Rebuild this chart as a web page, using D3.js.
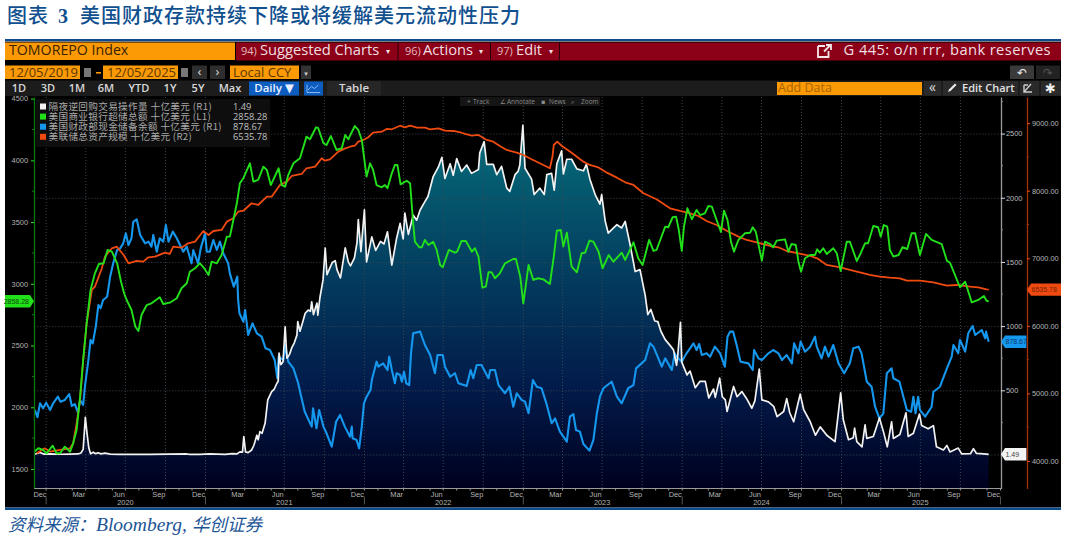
<!DOCTYPE html>
<html lang="zh">
<head>
<meta charset="utf-8">
<title>美国财政存款持续下降或将缓解美元流动性压力</title>
<script src="https://cdn.jsdelivr.net/npm/d3@7/dist/d3.min.js"></script>
<style>
html,body{margin:0;padding:0;background:#fff;}
svg{display:block;}
</style>
</head>
<body>
<svg id="chart" width="1066" height="541"></svg>
<script>
// Every series is a list of [days since the start date, value].
const startDate = "2019-12-05";
const endDate = "2025-12-05";

// Overnight reverse repo volume, billion USD (right axis 1)
const reverseRepo = [[0,2],[13,15],[22,3],[36,5],[59,2],[82,3],[100,4],[107,12],[112,40],[117,290],[121,160],[125,50],[129,5],[135,18],[141,6],[146,14],[153,5],[162,10],[174,3],[197,1],[266,1],[350,4],[357,1],[380,1],[403,4],[438,1],[454,6],[465,4],[472,20],[478,18],[481,139],[485,20],[491,14],[499,35],[504,70],[511,150],[514,115],[518,178],[523,165],[530,245],[536,425],[545,490],[551,510],[557,555],[560,570],[562,790],[566,700],[571,720],[576,995],[580,750],[586,780],[591,830],[597,870],[603,930],[605,1035],[610,960],[617,1040],[622,1100],[629,1125],[634,1115],[637,1190],[641,1090],[649,1180],[651,1085],[656,1225],[663,1360],[668,1608],[672,1400],[677,1440],[684,1495],[691,1510],[695,1440],[703,1375],[714,1610],[721,1500],[726,1470],[735,1530],[741,1650],[744,1830],[750,1580],[758,1905],[763,1500],[775,1695],[784,1590],[795,1660],[803,1640],[811,1735],[821,1475],[832,1685],[840,1800],[847,1680],[851,1880],[859,1715],[870,1865],[878,1825],[886,1905],[897,1970],[904,2010],[916,2165],[928,2240],[936,2315],[943,2150],[955,2265],[962,2175],[970,2305],[981,2205],[993,2255],[1004,2190],[1020,2220],[1023,2350],[1033,2437],[1039,2260],[1054,2260],[1062,2180],[1073,2245],[1085,2075],[1092,2050],[1104,2180],[1111,2205],[1115,2255],[1122,2565],[1127,2230],[1142,2145],[1148,2025],[1161,2075],[1171,2025],[1177,2180],[1188,2190],[1194,2060],[1200,2265],[1211,2365],[1215,2185],[1223,2300],[1234,2300],[1246,2225],[1261,2210],[1268,2260],[1276,2145],[1288,2025],[1299,1950],[1303,2025],[1311,1820],[1318,1725],[1338,1790],[1349,1765],[1357,1815],[1368,1640],[1380,1425],[1391,1440],[1403,1240],[1409,1090],[1416,1130],[1425,1040],[1432,1035],[1439,960],[1449,895],[1460,850],[1468,815],[1475,695],[1478,780],[1484,1030],[1487,720],[1499,620],[1506,650],[1518,520],[1529,570],[1541,570],[1549,440],[1560,510],[1564,445],[1574,595],[1580,450],[1587,425],[1591,335],[1606,530],[1614,450],[1625,490],[1636,435],[1648,360],[1655,420],[1665,665],[1671,425],[1686,410],[1698,375],[1706,295],[1721,335],[1728,435],[1735,325],[1744,255],[1759,470],[1767,350],[1782,255],[1794,150],[1805,215],[1820,150],[1839,100],[1852,480],[1858,270],[1870,115],[1881,130],[1884,205],[1889,100],[1901,60],[1908,230],[1912,125],[1927,140],[1941,285],[1950,180],[1959,60],[1969,255],[1973,125],[1988,155],[2002,325],[2007,140],[2019,165],[2033,315],[2038,225],[2053,200],[2065,225],[2072,60],[2088,35],[2096,70],[2103,20],[2122,50],[2130,5],[2150,6],[2157,45],[2164,8],[2180,4],[2192,1.49]];

// Commercial bank excess reserves, billion USD (left axis)
const bankReserves = [[0,1640],[9,1668],[20,1654],[28,1627],[42,1689],[51,1627],[59,1627],[70,1681],[82,1640],[89,1708],[97,1816],[105,2086],[112,2383],[120,2680],[129,2950],[139,3085],[148,3160],[159,3166],[168,3274],[178,3260],[190,3166],[199,3017],[206,2923],[212,2869],[223,2788],[232,2652],[239,2618],[246,2747],[258,2828],[269,2842],[288,2891],[296,2836],[311,2847],[327,2883],[338,2964],[350,3004],[357,3098],[369,3126],[380,3166],[390,3126],[400,3071],[407,3179],[419,3166],[430,3233],[442,3382],[449,3382],[457,3517],[465,3652],[472,3814],[480,3855],[495,3976],[503,3827],[514,3841],[526,3949],[534,3922],[543,3800],[561,3936],[568,3800],[576,3787],[583,3881],[595,3976],[610,4017],[625,4192],[633,4171],[647,4268],[652,4260],[664,4138],[671,4124],[681,4197],[694,4084],[706,4098],[714,4205],[721,4171],[736,4278],[744,4246],[752,4165],[759,3976],[763,3868],[771,3976],[778,3922],[786,3800],[798,3782],[805,3800],[811,3774],[821,3895],[828,3962],[834,3962],[841,3805],[855,3835],[863,3814],[870,3490],[874,3341],[884,3296],[890,3296],[897,3355],[905,3314],[916,3341],[924,3274],[932,3152],[938,3134],[952,3274],[966,3252],[971,3260],[981,3347],[991,3347],[1005,3260],[1012,3288],[1020,3220],[1029,2969],[1037,2977],[1043,3093],[1050,3093],[1058,3045],[1069,3085],[1081,3166],[1100,3201],[1106,3201],[1116,3058],[1123,2842],[1135,3152],[1146,3031],[1157,3045],[1169,3036],[1184,2998],[1193,3220],[1200,3430],[1209,3436],[1215,3301],[1223,3414],[1234,3139],[1246,3093],[1257,3247],[1265,3252],[1275,3350],[1284,3341],[1296,3260],[1305,3126],[1319,3233],[1330,3179],[1349,3252],[1357,3193],[1376,3336],[1387,3207],[1397,3152],[1412,3355],[1422,3266],[1429,3274],[1449,3463],[1456,3458],[1466,3539],[1474,3544],[1480,3440],[1487,3266],[1492,3463],[1500,3612],[1510,3523],[1521,3598],[1529,3557],[1540,3571],[1548,3630],[1556,3625],[1567,3517],[1577,3420],[1584,3592],[1592,3517],[1600,3341],[1607,3260],[1617,3355],[1632,3409],[1644,3414],[1650,3458],[1657,3422],[1671,3187],[1678,3341],[1690,3322],[1697,3296],[1705,3350],[1724,3360],[1732,3260],[1739,3322],[1749,3314],[1755,3179],[1761,3098],[1770,3207],[1782,3233],[1793,3233],[1798,3279],[1804,3252],[1812,3288],[1820,3241],[1835,3288],[1843,3247],[1852,3104],[1866,3341],[1873,3341],[1889,3185],[1896,3233],[1908,3328],[1915,3328],[1927,3468],[1938,3458],[1944,3382],[1951,3476],[1959,3463],[1965,3274],[1973,3220],[1985,3233],[1994,3296],[2005,3282],[2015,3409],[2023,3409],[2034,3233],[2048,3404],[2061,3355],[2084,3322],[2096,3187],[2103,3171],[2126,2972],[2138,3017],[2153,2850],[2168,2869],[2181,2901],[2187,2863],[2192,2858.28]];

// Treasury General Account balance, billion USD (right axis 1)
const treasuryCash = [[1,347],[7,290],[13,399],[20,360],[27,404],[36,347],[43,399],[54,450],[60,411],[70,425],[80,471],[86,378],[93,393],[100,326],[105,425],[112,386],[116,528],[124,736],[129,892],[134,866],[141,996],[147,1165],[152,1139],[158,1204],[167,1229],[174,1385],[181,1489],[190,1593],[197,1606],[204,1645],[210,1723],[216,1632],[223,1684],[227,1813],[235,1832],[243,1710],[254,1645],[262,1658],[269,1619],[273,1710],[281,1580],[288,1684],[296,1658],[302,1788],[308,1658],[318,1736],[327,1684],[342,1580],[350,1619],[361,1489],[365,1593],[376,1489],[382,1606],[392,1723],[396,1580],[403,1580],[411,1671],[419,1593],[426,1658],[434,1567],[445,1489],[449,1411],[458,1307],[466,1385],[468,1204],[471,1100],[480,1034],[484,1126],[491,931],[501,1022],[511,944],[522,918],[531,827],[541,814],[552,736],[558,594],[561,762],[572,736],[576,853],[583,723],[595,671],[606,555],[611,477],[621,333],[637,217],[640,360],[648,204],[654,347],[664,217],[671,165],[683,61],[693,255],[702,308],[713,217],[725,139],[729,217],[731,126],[740,113],[746,48],[752,217],[757,399],[763,450],[772,502],[775,580],[786,723],[790,684],[801,710],[811,658],[815,762],[821,658],[828,555],[832,633],[840,619],[844,567],[849,645],[854,555],[861,541],[865,788],[870,944],[886,957],[897,853],[909,775],[920,633],[926,775],[938,775],[943,684],[955,606],[966,633],[974,555],[993,534],[1002,658],[1008,594],[1016,697],[1027,697],[1043,594],[1047,658],[1058,658],[1066,541],[1081,477],[1091,528],[1100,372],[1108,477],[1119,425],[1127,411],[1135,321],[1145,580],[1154,528],[1165,516],[1177,386],[1188,243],[1196,282],[1207,178],[1223,100],[1230,295],[1238,315],[1244,191],[1253,178],[1261,82],[1275,30],[1284,113],[1292,321],[1299,450],[1307,516],[1326,567],[1338,450],[1349,399],[1364,516],[1376,541],[1382,671],[1403,736],[1414,866],[1422,840],[1441,684],[1449,749],[1464,658],[1471,788],[1475,762],[1487,723],[1498,788],[1514,866],[1521,814],[1527,861],[1533,775],[1544,788],[1552,762],[1563,840],[1575,788],[1586,684],[1592,918],[1598,957],[1605,957],[1613,853],[1622,723],[1640,710],[1650,658],[1653,814],[1663,749],[1671,736],[1686,788],[1697,814],[1709,788],[1717,736],[1728,775],[1740,710],[1745,866],[1755,788],[1760,879],[1770,801],[1782,840],[1793,918],[1797,840],[1808,749],[1816,840],[1824,762],[1835,853],[1847,710],[1860,633],[1873,710],[1881,827],[1893,840],[1900,788],[1912,567],[1923,528],[1931,372],[1941,282],[1950,321],[1958,633],[1969,671],[1973,594],[1987,567],[1996,450],[2004,347],[2014,333],[2019,450],[2024,321],[2030,450],[2034,347],[2046,295],[2061,372],[2065,489],[2080,528],[2096,671],[2107,762],[2111,853],[2122,788],[2126,892],[2138,801],[2145,944],[2155,1001],[2161,931],[2176,970],[2184,905],[2186,957],[2192,878.67]];

// Federal Reserve total assets, billion USD (right axis 2)
const fedAssets = [[5,4114],[24,4188],[36,4138],[59,4163],[82,4188],[89,4262],[97,4558],[105,4903],[112,5495],[120,6038],[132,6531],[139,6580],[155,6852],[162,7024],[178,7148],[189,7172],[205,7049],[216,6926],[235,6960],[250,6950],[262,7015],[277,7024],[300,7083],[311,7064],[319,7172],[338,7157],[353,7222],[369,7246],[388,7404],[400,7345],[411,7404],[430,7419],[442,7542],[457,7592],[468,7690],[480,7704],[499,7814],[514,7789],[534,7912],[545,7912],[564,8085],[580,8134],[591,8218],[614,8248],[625,8332],[645,8356],[660,8480],[667,8444],[679,8464],[698,8578],[714,8627],[725,8651],[736,8666],[744,8726],[756,8751],[767,8791],[778,8859],[798,8874],[809,8914],[821,8909],[840,8962],[851,8939],[863,8962],[879,8933],[897,8933],[909,8909],[928,8924],[943,8888],[963,8884],[978,8865],[989,8840],[1005,8815],[1020,8825],[1039,8751],[1054,8726],[1069,8662],[1085,8603],[1108,8563],[1123,8529],[1142,8465],[1161,8406],[1184,8332],[1190,8503],[1193,8677],[1201,8726],[1211,8666],[1234,8563],[1261,8430],[1276,8381],[1295,8347],[1315,8267],[1338,8193],[1357,8125],[1376,8085],[1399,7962],[1429,7873],[1460,7740],[1483,7700],[1506,7666],[1525,7626],[1544,7552],[1567,7493],[1590,7408],[1617,7320],[1636,7271],[1659,7237],[1690,7182],[1709,7163],[1728,7108],[1755,7074],[1782,7034],[1798,7000],[1820,6901],[1851,6867],[1873,6827],[1896,6793],[1919,6753],[1942,6728],[1965,6713],[1988,6704],[2004,6668],[2034,6668],[2065,6645],[2096,6594],[2118,6605],[2149,6580],[2168,6571],[2187,6541],[2192,6535.78]];

const legendNames = ["隔夜逆回购交易操作量 十亿美元 (R1)","美国商业银行超储总额 十亿美元 (L1)","美国财政部现金储备余额 十亿美元 (R1)","美联储总资产规模 十亿美元 (R2)"];
const legendValues = ["1.49","2858.28","878.67","6535.78"];
const leftTicks = [1500,2000,2500,3000,3500,4000,4500];
const rightTicks = [500,1000,1500,2000,2500];
const farRightTicks = [4000,5000,6000,7000,8000,9000];
const rangeButtons = ["1D","3D","1M","6M","YTD","1Y","5Y","Max"];

const COLORS = {white:"#f2f2f2", green:"#22e01a", blue:"#1597ee", red:"#ef4a10"};
const UI = "'Open Sans','DejaVu Sans',sans-serif";
const TICK = "'Liberation Sans',sans-serif";
const CJK = "'Noto Sans CJK SC',sans-serif";
const SERIF = "'Liberation Serif',serif";

const svg = d3.select("#chart");
const plot = {left:34.4, end:988.7, right:1001, top:97, bottom:488.5, r2:1027};

const parse = d3.utcParse("%Y-%m-%d");
const t0 = parse(startDate), t1 = parse(endDate);
const x = d3.scaleUtc().domain([t0,t1]).range([plot.left,plot.end]);
const yR1 = d3.scaleLinear().domain([-265,2785]).range([plot.bottom,plot.top]);
const yL1 = d3.scaleLinear().domain([1342,4513]).range([plot.bottom,plot.top]);
const yR2 = d3.scaleLinear().domain([3593,9387]).range([plot.bottom,plot.top]);
const dateOf = d => d3.utcDay.offset(t0,d);

// ---- report frame: heading, rules, source line ----
const heading = svg.append("text").attr("x",7).attr("y",23).attr("fill","#10508f")
  .attr("font-family",CJK).attr("font-weight",500).attr("font-size",20);
heading.append("tspan").attr("letter-spacing",1).text("图表");
heading.append("tspan").attr("x",58).attr("font-family",SERIF).attr("font-weight",700).attr("font-size",20).text("3");
heading.append("tspan").attr("x",80).attr("letter-spacing",1).text("美国财政存款持续下降或将缓解美元流动性压力");

svg.append("rect").attr("x",5).attr("y",39).attr("width",1056).attr("height",2).attr("fill","#0f4a8a");
svg.append("rect").attr("x",5).attr("y",41.5).attr("width",1056).attr("height",466).attr("fill","#000");
svg.append("rect").attr("x",5).attr("y",507.5).attr("width",1056).attr("height",2.5).attr("fill","#0f4a8a");

const source = svg.append("g").attr("fill","#1c5596").attr("font-style","italic");
source.append("text").attr("x",8).attr("y",531).attr("font-family",CJK).attr("font-size",17.5).text("资料来源：");
source.append("text").attr("x",96).attr("y",531).attr("font-family",SERIF).attr("font-size",19.5).text("Bloomberg,");
source.append("text").attr("x",192).attr("y",531).attr("font-family",CJK).attr("font-size",17.5).text("华创证券");

// ---- terminal toolbar ----
const bar = svg.append("g").attr("font-family",UI);
function box(px,py,w,h,fill){bar.append("rect").attr("x",px).attr("y",py).attr("width",w).attr("height",h).attr("fill",fill);}
function label(px,py,s,size,fill,anchor){
  return bar.append("text").attr("x",px).attr("y",py).attr("font-size",size).attr("fill",fill)
    .attr("text-anchor",anchor||"start").text(s);
}
box(5,42.5,230,17.5,"#fb9a05");
label(9,55.2,"TOMOREPO Index",14.2,"#3a2200");
box(236,42.5,825,18,"#8c0018");
[397.5,490,559].forEach(px=>box(px,42.5,1,18,"#2a0008"));
label(241,54.8,"94)",11,"#e5b9bf");
label(260,54.8,"Suggested Charts",14.7,"#f0dfe1");
label(388,54,"▾",8,"#f0dfe1","middle");
label(405,54.8,"96)",11,"#e5b9bf");
label(423,54.8,"Actions",14.7,"#f0dfe1");
label(481,54,"▾",8,"#f0dfe1","middle");
label(497,54.8,"97)",11,"#e5b9bf");
label(516,54.8,"Edit",14.7,"#f0dfe1");
label(551,54,"▾",8,"#f0dfe1","middle");
// "open in new window" glyph beside the chart title
bar.append("path").attr("d","M818 46h7M818 46v11h10.5v-6M824 51.5l6-6M826 45h5v5")
  .attr("fill","none").attr("stroke","#f4e6e8").attr("stroke-width",1.8);
label(1051,54.8,"G 445: o/n rrr, bank reserves",14.7,"#f0dfe1","end").attr("letter-spacing",.4);

box(5,65.5,75,13.5,"#fb9a05");
label(9,76.5,"12/05/2019",13,"#5a3600");
box(84,68,7,9,"#777");
box(96,72,5,1.6,"#fb9a05");
box(103,65.5,75,13.5,"#fb9a05");
label(107,76.5,"12/05/2025",13,"#5a3600");
box(181,68,7,9,"#777");
box(192,65.5,15,13.5,"#2e2e2e"); label(199.5,76,"‹",13,"#ddd","middle");
box(210,65.5,15,13.5,"#2e2e2e"); label(217.5,76,"›",13,"#ddd","middle");
box(230,65.5,69,13.5,"#fb9a05");
label(233,76.5,"Local CCY",13,"#5a3600");
box(301,65.5,10,13.5,"#333"); label(306,75.5,"▾",7,"#ccc","middle");
box(1010,65.5,24,13.5,"#3a3a3a"); label(1022,76.5,"↶",12,"#eee","middle");
box(1036,65.5,24,13.5,"#222"); label(1048,76.5,"↷",12,"#555","middle");

box(5,80.5,1056,15.5,"#1c1c1c");
const rangeX = [19,48,77,106,139,170,198,230];
rangeButtons.forEach((s,i)=>label(rangeX[i],91.7,s,11,"#d8d8d8","middle").attr("font-weight",600));
box(249,81.5,50,14,"#0d5cc0");
label(274,91.7,"Daily ▼",11.5,"#e8f0ff","middle").attr("font-weight",600);
box(304,81.5,19,14,"#0d5cc0");
bar.append("path").attr("d","M307 92.5h13M307 92.5v-8M308 90l3.5-3.5 3 2 4-3.5").attr("fill","none").attr("stroke","#8ab8f0").attr("stroke-width",1);
box(327,81,54,14.5,"#262626");
label(354,91.7,"Table",11.5,"#d8d8d8","middle").attr("font-weight",600);
box(777,82,145,13,"#fb9a05");
label(778,92.3,"Add Data",12.5,"#a86400");
box(924,81,17,14.5,"#2a2a2a"); label(932.5,92,"«",14,"#ddd","middle");
box(943,81,75,14.5,"#2a2a2a");
bar.append("path").attr("d","M948 92l1-2.5 6-6 1.5 1.5-6 6z").attr("fill","#eee");
label(962,91.7,"Edit Chart",11,"#e2e2e2").attr("font-weight",600);
box(1020,81,19,14.5,"#2a2a2a");
bar.append("path").attr("d","M1024 92l7-8M1024 85h4M1024 85v7h8").attr("fill","none").attr("stroke","#ccc").attr("stroke-width",1.4);
box(1041,81,20,14.5,"#2a2a2a");
label(1050.5,92.5,"✱",13,"#eee","middle");

// ---- gridlines: dotted, on right-axis levels and on quarter starts ----
const grid = svg.append("g").attr("stroke-dasharray","1 2").attr("stroke-width",1);
const quarterStarts = d3.utcMonth.range(t0,t1).filter(d=>d.getUTCMonth()%3===0);

// ---- shaded area under the reverse repo series ----
const defs = svg.append("defs");
const grad = defs.append("linearGradient").attr("id","repoFill").attr("gradientUnits","userSpaceOnUse")
  .attr("x1",0).attr("x2",0).attr("y1",125).attr("y2",plot.bottom);
[[0,"#0a7585"],[0.15,"#045c70"],[0.45,"#03385c"],[0.72,"#021b4a"],[1,"#00001f"]]
  .forEach(([o,c])=>grad.append("stop").attr("offset",o).attr("stop-color",c));

const area = d3.area().x(d=>x(dateOf(d[0]))).y0(plot.bottom).y1(d=>yR1(d[1]));
svg.append("path").datum(reverseRepo).attr("d",area).attr("fill","url(#repoFill)");

grid.selectAll(".h").data(rightTicks.concat([0])).join("line").attr("class","h")
  .attr("x1",plot.left).attr("x2",plot.right).attr("y1",d=>yR1(d)+.5).attr("y2",d=>yR1(d)+.5).attr("stroke","#3d4750");
grid.selectAll(".v").data(quarterStarts).join("line").attr("class","v")
  .attr("y1",plot.top).attr("y2",plot.bottom).attr("x1",d=>x(d)).attr("x2",d=>x(d)).attr("stroke","#3a4650");
svg.node().appendChild(grid.node());

// ---- the four series ----
const lineWith = y => d3.line().x(d=>x(dateOf(d[0]))).y(d=>y(d[1])).curve(d3.curveLinear);
function drawLine(data,y,color,width){
  svg.append("path").datum(data).attr("d",lineWith(y)).attr("fill","none")
    .attr("stroke",color).attr("stroke-width",width).attr("stroke-linejoin","round");
}
drawLine(treasuryCash,yR1,COLORS.blue,2.1);
drawLine(reverseRepo,yR1,COLORS.white,1.7);
drawLine(fedAssets,yR2,COLORS.red,1.8);
drawLine(bankReserves,yL1,COLORS.green,1.9);

// ---- axes ----
function styleAxis(g,lineColor,tickColor,textColor){
  g.selectAll("path.domain").attr("stroke",lineColor).attr("stroke-width",1.3);
  g.selectAll("line").attr("stroke",tickColor);
  g.selectAll("text").attr("fill",textColor).attr("font-family",TICK).attr("font-size",7.4);
}
function minorTicks(g,values,scale,side,color){
  g.append("g").selectAll("line").data(values).join("line")
    .attr("x1",0).attr("x2",side*2).attr("y1",d=>scale(d)).attr("y2",d=>scale(d)).attr("stroke",color);
}

const leftG = svg.append("g").attr("transform",`translate(${plot.left-0.4},0)`)
  .call(d3.axisLeft(yL1).tickValues(leftTicks).tickFormat(d3.format("d")).tickSize(3).tickSizeOuter(0).tickPadding(3));
styleAxis(leftG,"#0b7a0b","#22e01a","#b5b5b5");
minorTicks(leftG,leftTicks.slice(0,-1).map(v=>v+250),yL1,-1,"#0b7a0b");

const r1G = svg.append("g").attr("transform",`translate(${plot.right},0)`)
  .call(d3.axisRight(yR1).tickValues(rightTicks).tickFormat(d3.format("d")).tickSize(4).tickSizeOuter(0).tickPadding(1));
styleAxis(r1G,"#9a9a9a","#ddd","#bcbcbc");
minorTicks(r1G,[250,750,1250,1750,2250,2750],yR1,1,"#888");

const r2G = svg.append("g").attr("transform",`translate(${plot.r2},0)`)
  .call(d3.axisRight(yR2).tickValues(farRightTicks).tickFormat(d3.format(".2f")).tickSize(3).tickSizeOuter(0).tickPadding(2));
styleAxis(r2G,"#a83208","#ef4a10","#b5b5b5");
minorTicks(r2G,[4500,5500,6500,7500,8500],yR2,1,"#a83208");

// Time axis: monthly ticks, quarter names centred on their month, year names mid-year
const timeG = svg.append("g").attr("transform",`translate(0,${plot.bottom})`);
timeG.append("line").attr("x1",plot.left).attr("x2",plot.right).attr("stroke","#9a9a9a").attr("stroke-width",1.2);
timeG.selectAll(".m").data(d3.utcMonth.range(t0,d3.utcMonth.offset(t1,1))).join("line").attr("class","m")
  .attr("x1",d=>x(d)).attr("x2",d=>x(d)).attr("y1",0).attr("y2",2).attr("stroke","#999");
const monthNames = {11:"Dec",2:"Mar",5:"Jun",8:"Sep"};
const firstMonth = d3.utcMonth.floor(t0);
const labelled = d3.utcMonth.range(firstMonth,d3.utcMonth.offset(t1,1)).filter(d=>d.getUTCMonth() in monthNames);
timeG.selectAll(".ml").data(labelled).join("text").attr("class","ml")
  .attr("x",d=>Math.max(x(d3.utcDay.offset(d,15)),40)).attr("y",8.5).attr("text-anchor","middle")
  .attr("font-family",TICK).attr("font-size",7.4).attr("fill","#b5b5b5").text(d=>monthNames[d.getUTCMonth()]);
const yearStarts = d3.utcYear.range(t0,d3.utcYear.offset(t1,1));
timeG.selectAll(".yd").data(yearStarts).join("line").attr("class","yd")
  .attr("x1",d=>x(d)).attr("x2",d=>x(d)).attr("y1",8).attr("y2",16).attr("stroke","#555");
timeG.selectAll(".yl").data(yearStarts.slice(0,-1)).join("text").attr("class","yl")
  .attr("x",d=>x(d3.utcMonth.offset(d,6))).attr("y",16.5).attr("text-anchor","middle")
  .attr("font-family",TICK).attr("font-size",7.4).attr("fill","#b5b5b5").text(d=>d.getUTCFullYear());

// ---- last-value tags on the axes ----
function tag(x0,x1,yPos,fill,textFill,txt,pointLeft){
  const h=6.2;
  const p = pointLeft
    ? `M${x0-4} ${yPos}L${x0} ${yPos-h}H${x1}V${yPos+h}H${x0}Z`
    : `M${x1+4} ${yPos}L${x1} ${yPos-h}H${x0}V${yPos+h}H${x1}Z`;
  svg.append("path").attr("d",p).attr("fill",fill);
  svg.append("text").attr("x",pointLeft?x0+0.5:x1-1).attr("y",yPos+2.6).attr("text-anchor",pointLeft?"start":"end")
    .attr("font-family",TICK).attr("font-size",7).attr("fill",textFill).text(txt);
}
tag(5,30,yL1(2858.28),COLORS.green,"#0a4a0a","2858.28",false);
tag(1005,1026.4,yR1(878.67),COLORS.blue,"#0a3a66","878.67",true);
tag(1005,1026.4,yR1(1.49),"#f4f4f4","#444","1.49",true);
tag(1031,1061,yR2(6535.78),COLORS.red,"#7a2200","6535.78",true);

// ---- legend panel ----
const legend = svg.append("g");
legend.append("rect").attr("x",36).attr("y",99).attr("width",234).attr("height",48).attr("fill","#111").attr("opacity",.85);
const legendColors = [COLORS.white,COLORS.green,COLORS.blue,COLORS.red];
legendNames.forEach((name,i)=>{
  const yy = 106.5+i*10.1;
  legend.append("rect").attr("x",40).attr("y",yy-3).attr("width",6).attr("height",6).attr("fill",legendColors[i]);
  legend.append("text").attr("x",48.5).attr("y",yy+3.3).attr("font-family",CJK).attr("font-size",9.6).attr("letter-spacing",.35).attr("fill","#a8a8a8").text(name);
  legend.append("text").attr("x",233).attr("y",yy+3.3).attr("font-family",UI).attr("font-size",9.3).attr("fill","#c0c0c0").text(legendValues[i]);
});

// ---- chart tools strip ----
const tools = svg.append("g").attr("font-family",UI).attr("font-size",6.5).attr("fill","#8a8a8a");
tools.append("rect").attr("x",460).attr("y",97).attr("width",140).attr("height",9).attr("fill","#151515");
[["+",467],["Track",473],["∠",500],["Annotate",507],["▪",541],["News",549],["⌕",571],["Zoom",581]]
  .forEach(([s,px])=>tools.append("text").attr("x",px).attr("y",104).text(s));
</script>
</body>
</html>
